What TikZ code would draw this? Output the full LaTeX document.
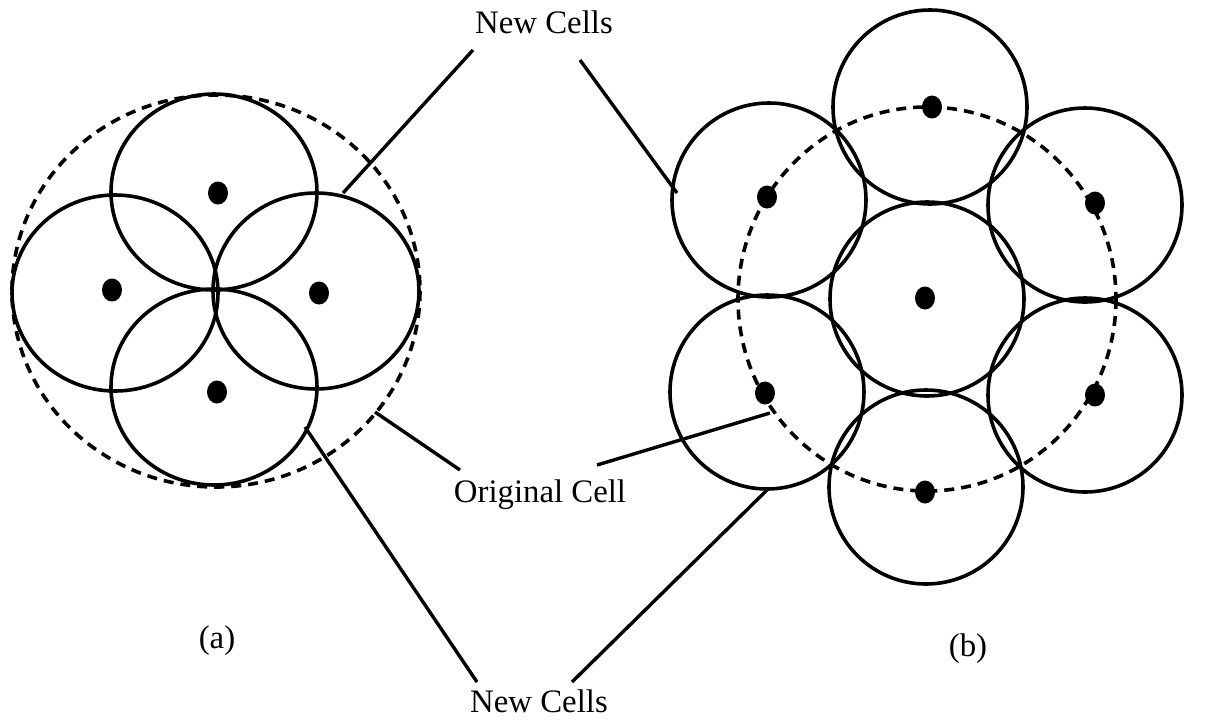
\documentclass[tikz,border=0pt]{standalone}
\usepackage{fontspec}
\setmainfont{Liberation Serif}
\usetikzlibrary{shapes.geometric}
\begin{document}
\begin{tikzpicture}[x=0.5pt,y=-0.5pt,
  cell/.style={line width=1.8pt},
  orig/.style={line width=1.8pt, dash pattern=on 5pt off 3.5pt},
  leader/.style={line width=1.7pt},
  dot/.style={ellipse, fill=black, draw=none, inner sep=0pt, minimum width=10pt, minimum height=11.5pt},
  lbl/.style={font=\fontsize{16.4}{20}\selectfont, inner sep=0pt, anchor=base}]
\useasboundingbox (0,0) rectangle (1228,719);

% ---------- (a): one cell split into four ----------
\coordinate (aT) at (214,192);
\coordinate (aL) at (115,293);
\coordinate (aR) at (316,291);
\coordinate (aB) at (214,387);
\coordinate (aO) at (216,291);
\foreach \c in {aT,aL,aR,aB}
  \draw[cell] (\c) ellipse [x radius=103, y radius=98];
\draw[orig] (aO) ellipse [x radius=204, y radius=196];
\node[dot] (daT) at (218,193) {};
\node[dot] (daL) at (112,290) {};
\node[dot] (daR) at (319,293) {};
\node[dot] (daB) at (217,392) {};

% ---------- (b): one cell split into seven ----------
\coordinate (bC)  at (927,299);
\coordinate (bT)  at (930,107);
\coordinate (bUL) at (769,200);
\coordinate (bUR) at (1085,205);
\coordinate (bLL) at (767,392);
\coordinate (bLR) at (1085,395);
\coordinate (bB)  at (926,487);
\foreach \c in {bC,bT,bUL,bUR,bLL,bLR,bB}
  \draw[cell] (\c) circle [radius=97];
\draw[orig] (bC) ellipse [x radius=189, y radius=192];
\node[dot] (dbC)  at (925,298) {};
\node[dot] (dbT)  at (932,107) {};
\node[dot] (dbUL) at (767,197) {};
\node[dot] (dbUR) at (1095,203) {};
\node[dot] (dbLL) at (765,393) {};
\node[dot] (dbLR) at (1095,395) {};
\node[dot] (dbB)  at (925,492) {};

% ---------- labels ----------
\node[lbl] (newtop) at (544,33) {New Cells};
\node[lbl] (orig)   at (540,502) {Original Cell};
\node[lbl] (newbot) at (539,712) {New Cells};
\node[lbl] (capa)   at (217,648) {(a)};
\node[lbl] (capb)   at (968,656) {(b)};

% ---------- leader lines ----------
\coordinate (nt1) at (473,50);  \coordinate (nt1e) at (343,193);
\coordinate (nt2) at (580,60);  \coordinate (nt2e) at (677,193);
\coordinate (oc1) at (460,470); \coordinate (oc1e) at (375,412);
\coordinate (oc2) at (597,465); \coordinate (oc2e) at (770,413);
\coordinate (nb1) at (477,682); \coordinate (nb1e) at (305,427);
\coordinate (nb2) at (572,682); \coordinate (nb2e) at (767,490);
\draw[leader] (nt1) -- (nt1e);
\draw[leader] (nt2) -- (nt2e);
\draw[leader] (oc1) -- (oc1e);
\draw[leader] (oc2) -- (oc2e);
\draw[leader] (nb1) -- (nb1e);
\draw[leader] (nb2) -- (nb2e);
\end{tikzpicture}
\end{document}
